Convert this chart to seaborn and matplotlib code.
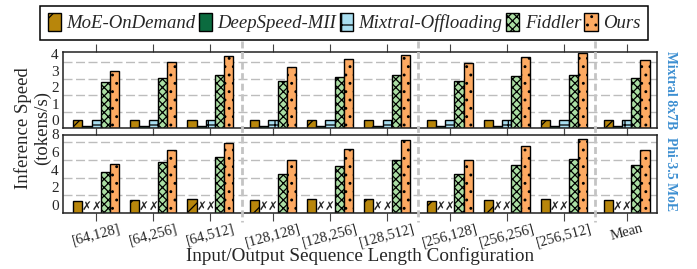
import numpy as np
import pandas as pd
import matplotlib
matplotlib.use('Agg')
import matplotlib.pyplot as plt
import matplotlib.transforms as mtransforms
import seaborn as sns
from matplotlib.colors import to_hex
from matplotlib.patches import Patch
from matplotlib.lines import Line2D

configs = ['[64,128]', '[64,256]', '[64,512]', '[128,128]', '[128,256]', '[128,512]',
           '[256,128]', '[256,256]', '[256,512]', 'Mean']
methods = ['MoE-OnDemand', 'DeepSpeed-MII', 'Mixtral-Offloading', 'Fiddler', 'Ours']
models = ['Mixtral 8x7B', 'Phi-3.5 MoE']

# Mixtral 8x7B (tokens/s)
mixtral_ondemand = [0.49, 0.49, 0.49, 0.49, 0.49, 0.49, 0.49, 0.49, 0.49, 0.49]
mixtral_deepspeed = [0.1, 0.1, 0.1, 0.1, 0.1, 0.1, 0.1, 0.1, 0.1, 0.1]
mixtral_offloading = [0.5, 0.5, 0.5, 0.5, 0.5, 0.5, 0.5, 0.5, 0.5, 0.5]
mixtral_fiddler = [2.8, 3.07, 3.23, 2.88, 3.1, 3.25, 2.86, 3.15, 3.23, 3.04]
mixtral_ours = [3.46, 4.05, 4.38, 3.72, 4.2, 4.44, 3.93, 4.3, 4.55, 4.12]

# Phi-3.5 MoE (tokens/s), DeepSpeed-MII / Mixtral-Offloading unsupported
phi_ondemand = [1.36, 1.5, 1.55, 1.5, 1.55, 1.58, 1.4, 1.5, 1.55, 1.5]
phi_deepspeed = [np.nan] * 10
phi_offloading = [np.nan] * 10
phi_fiddler = [4.68, 5.7, 6.33, 4.45, 5.35, 6.03, 4.45, 5.39, 6.1, 5.39]
phi_ours = [5.5, 7.16, 7.95, 5.95, 7.27, 8.2, 6.03, 7.54, 8.4, 7.08]

colors = ['#b8860b', '#0b6b3f', '#a9def0', '#abdea3', '#fdaa62']
hatches = ['/', '\\', '+', 'xxxx', '..']
model_color = '#3d8fd1'

model_data = {
    'Mixtral 8x7B': [mixtral_ondemand, mixtral_deepspeed, mixtral_offloading, mixtral_fiddler, mixtral_ours],
    'Phi-3.5 MoE': [phi_ondemand, phi_deepspeed, phi_offloading, phi_fiddler, phi_ours],
}

sns.set_style('white')
plt.rcParams['font.family'] = ['Liberation Serif', 'DejaVu Sans']
plt.rcParams['hatch.linewidth'] = 0.9
plt.rcParams['hatch.color'] = 'black'

# group positions with a small gap after every third configuration
positions = [i + 0.1 * (i // 3) for i in range(len(configs))]
separators = [(positions[i] + positions[i + 1]) / 2 for i in (2, 5, 8)]

fig = plt.figure(figsize=(6.97, 2.69), dpi=100)
ax_top = fig.add_axes([63 / 697, 1 - 128 / 269, 594 / 697, 76 / 269])
ax_bot = fig.add_axes([63 / 697, 1 - 213 / 269, 594 / 697, 78 / 269])
axes = [ax_top, ax_bot]
ylims = [(0, 4.63), (0, 8.8)]
yticks = [[0, 1, 2, 3, 4], [0, 2, 4, 6, 8]]

color_to_hatch = {to_hex(c): h for c, h in zip(colors, hatches)}

for ax, model, ylim, yt in zip(axes, models, ylims, yticks):
    rows = []
    for m, vals in zip(methods, model_data[model]):
        for p, v in zip(positions, vals):
            rows.append({'pos': p, 'method': m, 'speed': v})
    df = pd.DataFrame(rows)
    sns.barplot(data=df, x='pos', y='speed', hue='method', hue_order=methods,
                palette=colors, native_scale=True, saturation=1, errorbar=None,
                edgecolor='black', linewidth=1.0, legend=False, ax=ax)
    for patch in ax.patches:
        h = color_to_hatch.get(to_hex(patch.get_facecolor()))
        if h:
            patch.set_hatch(h)

    ax.set_ylim(*ylim)
    ax.set_xlim(-0.58, 9.83)
    ax.set_yticks(yt)
    ax.set_yticklabels([str(t) for t in yt], fontsize=11, va='bottom')
    ax.grid(axis='y', linestyle=(0, (6.5, 2.5)), color='#bdbdbd', linewidth=1.0)
    ax.set_axisbelow(True)
    ax.set_xlabel('')
    ax.set_ylabel('')
    ax.set_xticks(positions)
    ax.tick_params(axis='y', length=0, pad=3)
    ax.tick_params(axis='x', direction='out', length=5.5, width=0.8, color='#444444',
                   top=True, bottom=True)
    for s in ax.spines.values():
        s.set_color('#222222')
        s.set_linewidth(1.1)
    ax.text(1.012, 0.5, model, transform=ax.transAxes, rotation=-90, ha='left', va='center',
            fontsize=9.9, fontweight='bold', color=model_color)

ax_top.set_xticklabels([])
ax_bot.set_xticklabels(configs, rotation=15, fontsize=10.5, ha='center')
ax_bot.tick_params(axis='x', pad=1)

# unsupported baselines on Phi-3.5 MoE
for p in positions:
    for k in (1, 2):
        ax_bot.text(p - 0.4 + 0.16 * (k + 0.5), 0.0, '✗', ha='center', va='bottom',
                    fontsize=8.5, fontstyle='italic', family=['DejaVu Sans'])

# separators between input-length blocks, running through both panels
trans = mtransforms.blended_transform_factory(ax_top.transData, fig.transFigure)
for sx in separators:
    fig.add_artist(Line2D([sx, sx], [1 - 41 / 269, 1 - 222 / 269], transform=trans,
                          color='#c4c4c4', linewidth=2.0, linestyle=(0, (2.5, 1.3)), zorder=0.5))

fig.text(33 / 697, 1 - 128 / 269, 'Inference Speed\n(tokens/s)', rotation=90,
         ha='center', va='center', fontsize=13.5, linespacing=1.15)
fig.text(0.5 * (63 + 657) / 697, 1 - 256 / 269, 'Input/Output Sequence Length Configuration',
         ha='center', va='center', fontsize=13.8)

handles = [Patch(facecolor=c, edgecolor='black', hatch=h, label=m, linewidth=1.0)
           for c, h, m in zip(colors, hatches, methods)]
leg = fig.legend(handles=handles, ncol=5, loc='lower left', mode='expand',
                 bbox_to_anchor=(40 / 697, 1 - 40 / 269, 608 / 697, 37 / 269),
                 prop={'style': 'italic', 'size': 13.5}, frameon=True, fancybox=False,
                 edgecolor='black', framealpha=1, handlelength=0.7, handleheight=1.1,
                 handletextpad=0.3, columnspacing=0.4, borderpad=0.4, borderaxespad=0)
leg.get_frame().set_linewidth(1.1)

fig.savefig('out.png', dpi=100)
